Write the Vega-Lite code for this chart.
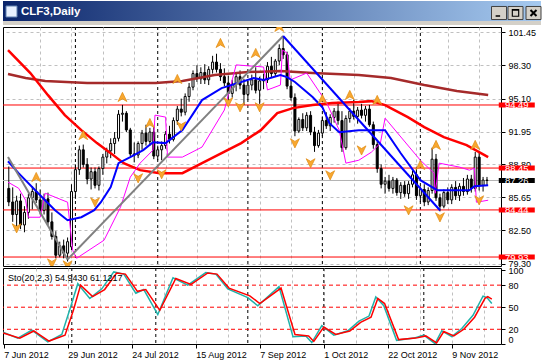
{
  "$schema": "https://vega.github.io/schema/vega-lite/v6.json",
  "background": "white",
  "padding": {"left": 2, "top": 1, "right": 0, "bottom": 0},
  "spacing": 2,
  "bounds": "flush",
  "config": {
    "view": {"stroke": "black", "strokeWidth": 1},
    "axis": {"labelFont": "Liberation Sans", "labelFontSize": 9, "labelColor": "black", "tickColor": "black", "domain": false, "tickCount": 40, "zindex": 0}
  },
  "datasets": {
    "one": [{"k": 1}],
    "bars": [
      {"i":0,"o":86.5,"h":88.6,"l":84.8,"c":85.2},{"i":1,"o":85.2,"h":86.6,"l":83.3,"c":84.0},{"i":2,"o":84.0,"h":85.8,"l":82.9,"c":85.3},{"i":3,"o":85.3,"h":86.0,"l":82.6,"c":83.0},
      {"i":4,"o":83.0,"h":84.8,"l":82.3,"c":84.2},{"i":5,"o":84.2,"h":86.0,"l":83.6,"c":85.6},{"i":6,"o":85.6,"h":86.7,"l":84.5,"c":86.2},{"i":7,"o":86.2,"h":87.0,"l":85.1,"c":85.4},
      {"i":8,"o":85.4,"h":86.4,"l":84.0,"c":84.4},{"i":9,"o":84.4,"h":86.0,"l":84.0,"c":85.5},{"i":10,"o":85.5,"h":86.1,"l":83.0,"c":83.3},{"i":11,"o":83.3,"h":84.2,"l":81.6,"c":81.9},
      {"i":12,"o":81.9,"h":82.4,"l":79.8,"c":80.1},{"i":13,"o":80.1,"h":81.4,"l":79.9,"c":81.0},{"i":14,"o":81.0,"h":81.6,"l":79.8,"c":80.3},{"i":15,"o":80.3,"h":81.8,"l":79.5,"c":81.4},
      {"i":16,"o":80.9,"h":86.9,"l":80.6,"c":86.2},{"i":17,"o":86.2,"h":88.8,"l":85.5,"c":88.3},{"i":18,"o":88.3,"h":90.6,"l":87.8,"c":90.2},{"i":19,"o":90.2,"h":90.7,"l":88.5,"c":88.8},
      {"i":20,"o":88.8,"h":89.4,"l":86.9,"c":87.4},{"i":21,"o":87.4,"h":88.5,"l":86.4,"c":88.1},{"i":22,"o":88.1,"h":88.5,"l":86.5,"c":86.8},{"i":23,"o":86.8,"h":88.6,"l":86.3,"c":88.4},
      {"i":24,"o":88.4,"h":89.8,"l":87.8,"c":89.5},{"i":25,"o":89.5,"h":90.4,"l":88.9,"c":90.1},{"i":26,"o":90.1,"h":91.3,"l":89.4,"c":90.8},{"i":27,"o":90.8,"h":91.9,"l":89.8,"c":91.3},
      {"i":28,"o":91.3,"h":94.0,"l":91.0,"c":93.6},{"i":29,"o":93.6,"h":94.5,"l":92.9,"c":93.7},{"i":30,"o":93.7,"h":93.9,"l":91.9,"c":92.1},{"i":31,"o":92.1,"h":92.3,"l":89.6,"c":89.8},
      {"i":32,"o":89.8,"h":90.9,"l":89.0,"c":89.7},{"i":33,"o":89.7,"h":91.0,"l":89.4,"c":90.8},{"i":34,"o":90.8,"h":92.1,"l":90.2,"c":91.8},{"i":35,"o":91.8,"h":92.6,"l":90.6,"c":91.0},
      {"i":36,"o":91.0,"h":92.3,"l":90.6,"c":91.9},{"i":37,"o":91.9,"h":92.4,"l":89.3,"c":89.6},{"i":38,"o":89.6,"h":90.6,"l":89.2,"c":90.2},{"i":39,"o":90.2,"h":91.0,"l":89.2,"c":90.6},
      {"i":40,"o":90.6,"h":92.0,"l":90.3,"c":91.7},{"i":41,"o":91.7,"h":92.5,"l":90.8,"c":91.2},{"i":42,"o":91.2,"h":93.3,"l":91.0,"c":93.0},{"i":43,"o":93.0,"h":94.4,"l":92.6,"c":94.1},
      {"i":44,"o":94.1,"h":95.1,"l":93.4,"c":93.8},{"i":45,"o":93.8,"h":95.6,"l":93.5,"c":95.3},{"i":46,"o":95.3,"h":96.6,"l":94.8,"c":96.2},{"i":47,"o":96.2,"h":97.8,"l":95.9,"c":97.5},
      {"i":48,"o":97.5,"h":98.3,"l":96.7,"c":97.0},{"i":49,"o":97.0,"h":98.1,"l":96.5,"c":97.6},{"i":50,"o":97.6,"h":98.4,"l":96.5,"c":96.9},{"i":51,"o":96.9,"h":98.2,"l":96.4,"c":97.9},
      {"i":52,"o":97.9,"h":99.2,"l":97.5,"c":98.6},{"i":53,"o":98.6,"h":99.4,"l":97.6,"c":97.9},{"i":54,"o":97.9,"h":98.5,"l":96.8,"c":97.2},{"i":55,"o":97.2,"h":98.0,"l":96.3,"c":96.6},
      {"i":56,"o":96.6,"h":97.3,"l":94.9,"c":95.6},{"i":57,"o":95.6,"h":96.9,"l":95.2,"c":96.5},{"i":58,"o":96.5,"h":97.6,"l":95.8,"c":97.2},{"i":59,"o":97.2,"h":97.8,"l":96.0,"c":96.4},
      {"i":60,"o":96.4,"h":97.0,"l":94.5,"c":95.5},{"i":61,"o":95.5,"h":96.8,"l":95.0,"c":96.4},{"i":62,"o":96.4,"h":97.4,"l":95.9,"c":96.9},{"i":63,"o":96.9,"h":98.1,"l":95.6,"c":95.9},
      {"i":64,"o":95.9,"h":97.2,"l":94.6,"c":96.8},{"i":65,"o":96.8,"h":97.5,"l":96.0,"c":96.9},{"i":66,"o":96.9,"h":98.6,"l":96.6,"c":98.2},{"i":67,"o":98.2,"h":99.1,"l":97.1,"c":97.5},
      {"i":68,"o":97.5,"h":98.9,"l":97.2,"c":98.7},{"i":69,"o":98.7,"h":100.3,"l":98.3,"c":99.9},{"i":70,"o":99.9,"h":101.1,"l":98.9,"c":99.3},{"i":71,"o":99.3,"h":99.6,"l":96.0,"c":96.3},
      {"i":72,"o":96.3,"h":96.9,"l":94.9,"c":95.2},{"i":73,"o":95.2,"h":95.6,"l":91.5,"c":92.0},{"i":74,"o":92.0,"h":93.3,"l":91.8,"c":93.1},{"i":75,"o":93.1,"h":93.7,"l":92.0,"c":92.3},
      {"i":76,"o":92.3,"h":93.8,"l":92.0,"c":93.5},{"i":77,"o":93.5,"h":93.9,"l":91.6,"c":91.9},{"i":78,"o":91.9,"h":92.4,"l":90.0,"c":90.6},{"i":79,"o":90.6,"h":92.1,"l":90.4,"c":91.8},
      {"i":80,"o":91.8,"h":93.4,"l":91.5,"c":93.0},{"i":81,"o":93.0,"h":93.8,"l":92.2,"c":92.5},{"i":82,"o":92.5,"h":93.6,"l":92.0,"c":93.3},{"i":83,"o":93.3,"h":94.2,"l":92.8,"c":93.9},
      {"i":84,"o":93.9,"h":94.8,"l":92.6,"c":93.0},{"i":85,"o":93.0,"h":93.9,"l":90.0,"c":90.4},{"i":86,"o":90.4,"h":93.5,"l":90.2,"c":93.2},{"i":87,"o":93.2,"h":94.2,"l":92.8,"c":93.9},
      {"i":88,"o":93.9,"h":95.0,"l":93.1,"c":93.4},{"i":89,"o":93.4,"h":94.3,"l":92.7,"c":94.0},{"i":90,"o":94.0,"h":94.6,"l":93.2,"c":93.5},{"i":91,"o":93.5,"h":94.4,"l":92.9,"c":94.1},
      {"i":92,"o":94.1,"h":94.5,"l":92.4,"c":92.6},{"i":93,"o":92.6,"h":92.9,"l":90.3,"c":90.7},{"i":94,"o":90.7,"h":91.0,"l":88.0,"c":88.4},{"i":95,"o":88.4,"h":88.8,"l":86.5,"c":86.9},
      {"i":96,"o":86.9,"h":87.6,"l":86.0,"c":87.2},{"i":97,"o":87.2,"h":87.8,"l":86.2,"c":86.5},{"i":98,"o":86.5,"h":87.6,"l":86.0,"c":87.3},{"i":99,"o":87.3,"h":87.5,"l":85.8,"c":86.1},
      {"i":100,"o":86.1,"h":87.1,"l":85.5,"c":86.8},{"i":101,"o":86.8,"h":87.2,"l":85.7,"c":86.0},{"i":102,"o":86.0,"h":87.2,"l":85.5,"c":86.9},{"i":103,"o":86.9,"h":88.2,"l":86.6,"c":87.8},
      {"i":104,"o":87.8,"h":88.5,"l":85.4,"c":85.8},{"i":105,"o":85.8,"h":86.7,"l":85.2,"c":86.4},{"i":106,"o":86.4,"h":86.9,"l":84.8,"c":85.2},{"i":107,"o":85.2,"h":86.6,"l":84.9,"c":86.3},
      {"i":108,"o":86.3,"h":90.4,"l":86.0,"c":89.3},{"i":109,"o":89.3,"h":89.8,"l":85.3,"c":85.6},{"i":110,"o":85.6,"h":86.0,"l":84.3,"c":84.8},{"i":111,"o":84.8,"h":86.4,"l":84.6,"c":86.1},
      {"i":112,"o":86.1,"h":86.6,"l":85.0,"c":85.4},{"i":113,"o":85.4,"h":86.9,"l":85.0,"c":86.6},{"i":114,"o":86.6,"h":87.2,"l":85.4,"c":85.8},{"i":115,"o":85.8,"h":87.0,"l":85.3,"c":86.7},
      {"i":116,"o":86.7,"h":87.5,"l":85.8,"c":86.2},{"i":117,"o":86.2,"h":87.8,"l":85.9,"c":87.4},{"i":118,"o":87.4,"h":87.8,"l":86.1,"c":86.5},{"i":119,"o":86.5,"h":90.0,"l":86.2,"c":89.5},
      {"i":120,"o":89.5,"h":89.9,"l":86.3,"c":86.8},{"i":121,"o":86.8,"h":87.6,"l":86.2,"c":87.3},{"i":122,"o":87.3,"h":87.6,"l":86.8,"c":87.26}
    ],
    "brown": [
      {"i":-0.2,"p":97.45},{"i":4.3,"p":97.07},{"i":9.3,"p":96.78},{"i":20,"p":96.59},{"i":37.5,"p":96.59},{"i":44.3,"p":96.78},{"i":52.5,"p":97.36},{"i":61,"p":97.64},{"i":69.3,"p":97.74},{"i":77.5,"p":97.55},{"i":89.3,"p":97.36},{"i":97.5,"p":97.07},{"i":106,"p":96.4},{"i":114.3,"p":95.83},{"i":122.3,"p":95.44}
    ],
    "redma": [
      {"i":-0.2,"p":99.75},{"i":5.5,"p":97.55},{"i":10,"p":95.43},{"i":14.3,"p":93.52},{"i":18.5,"p":92.08},{"i":22.5,"p":90.84},{"i":26,"p":89.88},{"i":29.3,"p":88.92},{"i":33.5,"p":88.25},{"i":38.5,"p":87.96},{"i":44.3,"p":87.96},{"i":49.3,"p":88.92},{"i":54.3,"p":89.88},{"i":59.3,"p":90.84},{"i":64.3,"p":92.08},{"i":68.5,"p":93.71},{"i":72.5,"p":94.19},{"i":77.5,"p":94.48},{"i":82.5,"p":94.67},{"i":89.3,"p":94.77},{"i":92.5,"p":94.86},{"i":96,"p":94.48},{"i":101.8,"p":93.33},{"i":106,"p":92.37},{"i":111,"p":91.41},{"i":116.8,"p":90.64},{"i":122.3,"p":89.5}
    ],
    "bluema": [
      {"i":-0.2,"p":89.1},{"i":2.5,"p":87.96},{"i":8.5,"p":85.66},{"i":11.8,"p":84.41},{"i":15,"p":83.45},{"i":18.5,"p":83.74},{"i":21.8,"p":84.41},{"i":23.5,"p":85.18},{"i":26,"p":86.62},{"i":28,"p":88.92},{"i":31,"p":89.5},{"i":34.3,"p":90.17},{"i":36.8,"p":90.93},{"i":40,"p":90.84},{"i":44.3,"p":92.08},{"i":49.3,"p":94.96},{"i":54.3,"p":96.11},{"i":59.3,"p":96.69},{"i":62.5,"p":97.07},{"i":65,"p":96.88},{"i":69.3,"p":97.36},{"i":71,"p":97.16},{"i":73,"p":96.69},{"i":77.5,"p":95.25},{"i":80,"p":94.28},{"i":81.8,"p":92.75},{"i":84.3,"p":91.89},{"i":89.3,"p":92.08},{"i":96,"p":92.08},{"i":100,"p":89.87},{"i":105,"p":87.29},{"i":109.3,"p":86.33},{"i":117.5,"p":86.33},{"i":118.8,"p":86.71},{"i":122.3,"p":86.81}
    ],
    "magenta": [
      {"i":-0.2,"p":87.1},{"i":2.5,"p":86.52},{"i":4.3,"p":85.37},{"i":5,"p":83.74},{"i":8,"p":83.74},{"i":9.3,"p":86.04},{"i":15,"p":85.18},{"i":16.3,"p":80.58},{"i":17.3,"p":79.81},{"i":24.3,"p":81.54},{"i":28.5,"p":84.7},{"i":31,"p":87.58},{"i":33.5,"p":88.92},{"i":36.8,"p":90.17},{"i":37.3,"p":93.52},{"i":40,"p":93.33},{"i":40.5,"p":89.5},{"i":44.3,"p":89.5},{"i":49.3,"p":90.46},{"i":55,"p":94.01},{"i":58,"p":98.33},{"i":65,"p":98.13},{"i":66,"p":95.93},{"i":69.3,"p":96.4},{"i":69.8,"p":99.75},{"i":71,"p":99.46},{"i":71.8,"p":96.88},{"i":76,"p":97.55},{"i":81,"p":94.77},{"i":84.3,"p":92.08},{"i":86,"p":88.92},{"i":89.3,"p":89.2},{"i":92.5,"p":89.97},{"i":94.8,"p":90.83},{"i":96,"p":93.23},{"i":105,"p":89.2},{"i":108.5,"p":87.96},{"i":108.8,"p":86.04},{"i":109.8,"p":88.92},{"i":115,"p":88.54},{"i":117.5,"p":88.25},{"i":118.8,"p":88.44},{"i":119.3,"p":85.18},{"i":122.3,"p":85.37}
    ],
    "gtrend": [
      {"g":"a","i":-0.2,"p":89.5},{"g":"a","i":15,"p":79.7},{"g":"b","i":15,"p":79.7},{"g":"b","i":70,"p":101.1}
    ],
    "btrend": [
      {"i":70,"p":101.1},{"i":110,"p":84.41}
    ],
    "levels": [{"p":94.49},{"p":88.45},{"p":84.44},{"p":79.93}],
    "bid": [{"p":87.26}],
    "seps": [{"i":17},{"i":38},{"i":61},{"i":80},{"i":105}],
    "frac": [
      {"i":2,"p":82.69,"t":"dn"},{"i":7,"p":87.58,"t":"up"},{"i":11,"p":79.33,"t":"dn"},{"i":15,"p":79.14,"t":"dn"},{"i":19,"p":91.6,"t":"up"},{"i":22,"p":85.18,"t":"dn"},
      {"i":29,"p":95.25,"t":"up"},{"i":33,"p":87.48,"t":"dn"},{"i":36,"p":92.75,"t":"up"},{"i":39,"p":87.87,"t":"dn"},{"i":43,"p":96.97,"t":"up"},{"i":44,"p":92.46,"t":"dn"},
      {"i":54,"p":100.42,"t":"up"},{"i":56,"p":94.76,"t":"dn"},{"i":59,"p":94.28,"t":"dn"},{"i":63,"p":99.46,"t":"up"},{"i":64,"p":94.28,"t":"dn"},{"i":69,"p":101.96,"t":"up"},
      {"i":73,"p":90.83,"t":"dn"},{"i":77,"p":88.92,"t":"dn"},{"i":80,"p":95.05,"t":"up"},{"i":82,"p":87.77,"t":"dn"},{"i":87,"p":95.44,"t":"up"},{"i":90,"p":90.15,"t":"dn"},
      {"i":94,"p":94.96,"t":"up"},{"i":102,"p":84.41,"t":"dn"},{"i":105,"p":88.73,"t":"up"},{"i":109,"p":90.65,"t":"up"},{"i":110,"p":83.74,"t":"dn"},{"i":119,"p":90.65,"t":"up"},{"i":120,"p":85.37,"t":"dn"}
    ],
    "boxes": [
      {"p":94.49,"lab":"94.49","k":"lvl"},{"p":88.45,"lab":"88.45","k":"lvl"},{"p":84.44,"lab":"84.44","k":"lvl"},{"p":79.93,"lab":"79.93","k":"lvl"},{"p":87.26,"lab":"87.26","k":"bid"}
    ],
    "stmain": [
      {"i":-0.2,"v":16},{"i":3.5,"v":8},{"i":7,"v":19},{"i":11,"v":3},{"i":14.5,"v":13},{"i":16.8,"v":52},{"i":18.5,"v":82},{"i":21.5,"v":62},{"i":24.5,"v":75},{"i":27.5,"v":98},{"i":30,"v":95},{"i":33,"v":69},{"i":35,"v":74},{"i":38.5,"v":40},{"i":42.3,"v":90},{"i":46,"v":80},{"i":50.5,"v":97},{"i":53,"v":95},{"i":56,"v":75},{"i":61,"v":63},{"i":63.5,"v":52},{"i":68.8,"v":78},{"i":72.3,"v":10},{"i":75.5,"v":11},{"i":77,"v":2},{"i":79.5,"v":25},{"i":82.5,"v":12},{"i":86,"v":18},{"i":88.8,"v":31},{"i":91.3,"v":38},{"i":93,"v":64},{"i":95,"v":52},{"i":98.2,"v":5},{"i":102.5,"v":8},{"i":105,"v":12},{"i":107.8,"v":0.5},{"i":109.5,"v":18},{"i":112,"v":10},{"i":114.5,"v":21},{"i":117.3,"v":39},{"i":119.8,"v":65},{"i":120.8,"v":63},{"i":122,"v":54.94}
    ],
    "stsig": [
      {"i":-0.2,"v":15},{"i":4,"v":8},{"i":7.5,"v":17.7},{"i":11.3,"v":4},{"i":15.3,"v":12},{"i":17.4,"v":46},{"i":19.2,"v":80},{"i":22.2,"v":64.5},{"i":25.2,"v":74},{"i":28.2,"v":96.5},{"i":30.4,"v":95},{"i":33.4,"v":71.6},{"i":35.5,"v":74},{"i":39,"v":45.8},{"i":43,"v":89},{"i":46.8,"v":81},{"i":51,"v":96.5},{"i":53.3,"v":95},{"i":56.3,"v":76},{"i":61.5,"v":65.5},{"i":64,"v":55},{"i":69.3,"v":76},{"i":72.8,"v":13},{"i":76.2,"v":11},{"i":77.5,"v":3.5},{"i":80,"v":23},{"i":83,"v":13},{"i":86.5,"v":17.7},{"i":89.2,"v":29.3},{"i":91.8,"v":36.4},{"i":93.5,"v":62},{"i":95.2,"v":55},{"i":98.7,"v":6},{"i":103,"v":8},{"i":105.5,"v":11},{"i":108.2,"v":1.5},{"i":110,"v":17},{"i":112.5,"v":11},{"i":115,"v":20},{"i":117.7,"v":36.4},{"i":120.3,"v":62},{"i":121,"v":64.5},{"i":122,"v":61.12}
    ],
    "stlev": [{"v":20},{"v":50},{"v":80}]
  },
  "vconcat": [
    {
      "width": 538,
      "height": 24,
      "view": {"stroke": null},
      "data": {"name": "one"},
      "layer": [
        {
          "mark": {"type": "rect", "fill": "#D4D0C8"},
          "encoding": {
            "x": {"datum": 0, "type": "quantitative", "scale": {"domain": [0, 538], "nice": false, "zero": false}, "axis": null},
            "x2": {"datum": 538},
            "y": {"datum": 0, "type": "quantitative", "scale": {"domain": [0, 24], "reverse": true, "nice": false, "zero": false}, "axis": null},
            "y2": {"datum": 24}
          }
        },
        {
          "mark": {"type": "rect", "fill": {"gradient": "linear", "x1": 0, "x2": 1, "y1": 0, "y2": 0, "stops": [{"offset": 0, "color": "#0A246A"}, {"offset": 1, "color": "#A6CAF0"}]}},
          "encoding": {
            "x": {"datum": 0, "type": "quantitative"},
            "x2": {"datum": 538},
            "y": {"datum": 0, "type": "quantitative"},
            "y2": {"datum": 20}
          }
        },
        {
          "mark": {"type": "point", "shape": "square", "filled": true, "fill": "#E8F0FF", "stroke": "#6080B0", "strokeWidth": 1, "size": 121, "opacity": 1},
          "encoding": {"x": {"datum": 8.5, "type": "quantitative"}, "y": {"datum": 10.5, "type": "quantitative"}}
        },
        {
          "mark": {"type": "text", "text": "CLF3,Daily", "color": "white", "font": "Liberation Sans", "fontSize": 11.5, "fontWeight": "bold", "align": "left", "baseline": "middle"},
          "encoding": {"x": {"datum": 18, "type": "quantitative"}, "y": {"datum": 11, "type": "quantitative"}}
        },
        {
          "mark": {"type": "point", "shape": "M-1,-0.87L1,-0.87L1,0.87L-1,0.87Z", "filled": true, "fill": "#D4D0C8", "stroke": "#404040", "strokeWidth": 1, "size": 225, "opacity": 1},
          "encoding": {"x": {"datum": 496, "type": "quantitative"}, "y": {"datum": 12, "type": "quantitative"}}
        },
        {
          "mark": {"type": "point", "shape": "M-1,-0.87L1,-0.87L1,0.87L-1,0.87Z", "filled": true, "fill": "#D4D0C8", "stroke": "#404040", "strokeWidth": 1, "size": 225, "opacity": 1},
          "encoding": {"x": {"datum": 512.5, "type": "quantitative"}, "y": {"datum": 12, "type": "quantitative"}}
        },
        {
          "mark": {"type": "point", "shape": "M-1,-0.87L1,-0.87L1,0.87L-1,0.87Z", "filled": true, "fill": "#D4D0C8", "stroke": "#404040", "strokeWidth": 1, "size": 225, "opacity": 1},
          "encoding": {"x": {"datum": 530.5, "type": "quantitative"}, "y": {"datum": 12, "type": "quantitative"}}
        },
        {
          "mark": {"type": "point", "shape": "M-0.45,0.3L0.15,0.3L0.15,0.5L-0.45,0.5Z", "filled": true, "fill": "black", "size": 225, "opacity": 1},
          "encoding": {"x": {"datum": 496, "type": "quantitative"}, "y": {"datum": 12, "type": "quantitative"}}
        },
        {
          "mark": {"type": "point", "shape": "M-0.5,-0.55L0.5,-0.55L0.5,0.5L-0.5,0.5ZM-0.35,-0.3L-0.35,0.35L0.35,0.35L0.35,-0.3Z", "filled": true, "fill": "black", "size": 225, "opacity": 1},
          "encoding": {"x": {"datum": 512.5, "type": "quantitative"}, "y": {"datum": 12, "type": "quantitative"}}
        },
        {
          "mark": {"type": "point", "shape": "M-0.4,-0.4L0.4,0.4M0.4,-0.4L-0.4,0.4", "filled": false, "stroke": "black", "strokeWidth": 2, "size": 225, "opacity": 1},
          "encoding": {"x": {"datum": 530.5, "type": "quantitative"}, "y": {"datum": 12, "type": "quantitative"}}
        }
      ]
    },
    {
      "width": 498,
      "height": 239,
      "layer": [
        {
          "data": {"name": "seps"},
          "mark": {"type": "rule", "color": "black", "strokeDash": [3, 3], "strokeWidth": 1},
          "encoding": {
            "x": {"field": "i", "type": "quantitative", "scale": {"domain": [-0.2, 124.3], "nice": false, "zero": false},
              "axis": {"orient": "bottom", "values": [8,16,24,32,40,48,56,64,72,80,88,96,104,112,120], "tickCount": 40, "zindex": 0, "grid": true, "gridColor": "#C0C0C0", "gridDash": [3, 3], "labels": false, "ticks": false, "domain": false, "title": null}}
          }
        },
        {
          "data": {"name": "levels"},
          "mark": {"type": "rule", "color": "#FF0000", "strokeWidth": 1},
          "encoding": {
            "y": {"field": "p", "type": "quantitative", "scale": {"domain": [79.07, 101.96], "nice": false, "zero": false},
              "axis": {"orient": "right", "values": [101.45, 98.30, 95.10, 91.95, 88.80, 85.65, 82.50, 79.30], "tickCount": 40, "zindex": 0, "format": ".2f", "grid": true, "gridColor": "#C0C0C0", "gridDash": [3, 3], "tickSize": 4, "tickColor": "black", "labelPadding": 3, "labelFlush": false, "labelOverlap": false, "labelBound": false, "domain": false, "title": null}}
          }
        },
        {
          "data": {"name": "bid"},
          "mark": {"type": "rule", "color": "#B4B4B4", "strokeWidth": 1},
          "encoding": {"y": {"field": "p", "type": "quantitative", "scale": {"domain": [79.07, 101.96], "nice": false, "zero": false}}}
        },
        {
          "data": {"name": "bars"},
          "mark": {"type": "rule", "color": "black", "strokeWidth": 1, "clip": true},
          "encoding": {
            "x": {"field": "i", "type": "quantitative", "scale": {"domain": [-0.2, 124.3], "nice": false, "zero": false}},
            "y": {"field": "l", "type": "quantitative", "scale": {"domain": [79.07, 101.96], "nice": false, "zero": false}},
            "y2": {"field": "h"}
          }
        },
        {
          "data": {"name": "bars"},
          "mark": {"type": "bar", "orient": "vertical", "size": 2, "stroke": "black", "strokeWidth": 1, "clip": true},
          "encoding": {
            "x": {"field": "i", "type": "quantitative", "scale": {"domain": [-0.2, 124.3], "nice": false, "zero": false}},
            "y": {"field": "o", "type": "quantitative", "scale": {"domain": [79.07, 101.96], "nice": false, "zero": false}},
            "y2": {"field": "c"},
            "fill": {"condition": {"test": "datum.c >= datum.o", "value": "white"}, "value": "black"}
          }
        },
        {
          "data": {"name": "brown"},
          "mark": {"type": "line", "color": "#A52A2A", "strokeWidth": 2.5, "clip": true},
          "encoding": {"x": {"field": "i", "type": "quantitative", "scale": {"domain": [-0.2, 124.3], "nice": false, "zero": false}}, "y": {"field": "p", "type": "quantitative", "scale": {"domain": [79.07, 101.96], "nice": false, "zero": false}}}
        },
        {
          "data": {"name": "redma"},
          "mark": {"type": "line", "color": "#FF0000", "strokeWidth": 2.5, "clip": true},
          "encoding": {"x": {"field": "i", "type": "quantitative", "scale": {"domain": [-0.2, 124.3], "nice": false, "zero": false}}, "y": {"field": "p", "type": "quantitative", "scale": {"domain": [79.07, 101.96], "nice": false, "zero": false}}}
        },
        {
          "data": {"name": "magenta"},
          "mark": {"type": "line", "color": "#FF00FF", "strokeWidth": 1, "clip": true},
          "encoding": {"x": {"field": "i", "type": "quantitative", "scale": {"domain": [-0.2, 124.3], "nice": false, "zero": false}}, "y": {"field": "p", "type": "quantitative", "scale": {"domain": [79.07, 101.96], "nice": false, "zero": false}}}
        },
        {
          "data": {"name": "bluema"},
          "mark": {"type": "line", "color": "#0000FF", "strokeWidth": 2, "clip": true},
          "encoding": {"x": {"field": "i", "type": "quantitative", "scale": {"domain": [-0.2, 124.3], "nice": false, "zero": false}}, "y": {"field": "p", "type": "quantitative", "scale": {"domain": [79.07, 101.96], "nice": false, "zero": false}}}
        },
        {
          "data": {"name": "gtrend"},
          "mark": {"type": "line", "color": "#808080", "strokeWidth": 2, "clip": true},
          "encoding": {"x": {"field": "i", "type": "quantitative", "scale": {"domain": [-0.2, 124.3], "nice": false, "zero": false}}, "y": {"field": "p", "type": "quantitative", "scale": {"domain": [79.07, 101.96], "nice": false, "zero": false}}, "detail": {"field": "g"}}
        },
        {
          "data": {"name": "btrend"},
          "mark": {"type": "line", "color": "#0000FF", "strokeWidth": 2, "clip": true},
          "encoding": {"x": {"field": "i", "type": "quantitative", "scale": {"domain": [-0.2, 124.3], "nice": false, "zero": false}}, "y": {"field": "p", "type": "quantitative", "scale": {"domain": [79.07, 101.96], "nice": false, "zero": false}}}
        },
        {
          "data": {"name": "frac"},
          "transform": [{"filter": "datum.t === 'up'"}],
          "mark": {"type": "point", "shape": "M0,-0.9L0.85,0.85L0,0.35L-0.85,0.85Z", "filled": true, "fill": "#F8A830", "stroke": "#E08A10", "strokeWidth": 0.7, "size": 110, "opacity": 1, "clip": true},
          "encoding": {"x": {"field": "i", "type": "quantitative", "scale": {"domain": [-0.2, 124.3], "nice": false, "zero": false}}, "y": {"field": "p", "type": "quantitative", "scale": {"domain": [79.07, 101.96], "nice": false, "zero": false}}}
        },
        {
          "data": {"name": "frac"},
          "transform": [{"filter": "datum.t === 'dn'"}],
          "mark": {"type": "point", "shape": "M0,0.9L0.85,-0.85L0,-0.35L-0.85,-0.85Z", "filled": true, "fill": "#F8A830", "stroke": "#E08A10", "strokeWidth": 0.7, "size": 110, "opacity": 1, "clip": true},
          "encoding": {"x": {"field": "i", "type": "quantitative", "scale": {"domain": [-0.2, 124.3], "nice": false, "zero": false}}, "y": {"field": "p", "type": "quantitative", "scale": {"domain": [79.07, 101.96], "nice": false, "zero": false}}}
        },
        {
          "data": {"name": "boxes"},
          "mark": {"type": "point", "shape": "M-1,-0.139L1,-0.139L1,0.139L-1,0.139Z", "filled": true, "size": 1296, "opacity": 1},
          "encoding": {
            "x": {"datum": 129.6, "type": "quantitative", "scale": {"domain": [-0.2, 124.3], "nice": false, "zero": false}},
            "y": {"field": "p", "type": "quantitative", "scale": {"domain": [79.07, 101.96], "nice": false, "zero": false}},
            "fill": {"condition": {"test": "datum.k === 'bid'", "value": "black"}, "value": "#FF0000"}
          }
        },
        {
          "data": {"name": "boxes"},
          "mark": {"type": "text", "color": "white", "font": "Liberation Sans", "fontSize": 9.5, "align": "center", "baseline": "middle", "dy": 0.5},
          "encoding": {
            "x": {"datum": 129.6, "type": "quantitative", "scale": {"domain": [-0.2, 124.3], "nice": false, "zero": false}},
            "y": {"field": "p", "type": "quantitative", "scale": {"domain": [79.07, 101.96], "nice": false, "zero": false}},
            "text": {"field": "lab"}
          }
        }
      ]
    },
    {
      "width": 498,
      "height": 76,
      "layer": [
        {
          "data": {"name": "seps"},
          "mark": {"type": "rule", "color": "black", "strokeDash": [3, 3], "strokeWidth": 1},
          "encoding": {
            "x": {"field": "i", "type": "quantitative", "scale": {"domain": [-0.2, 124.3], "nice": false, "zero": false},
              "axis": {"orient": "bottom", "values": [0,8,16,24,32,40,48,56,64,72,80,88,96,104,112,120], "tickCount": 40, "zindex": 0,
                "labelExpr": "datum.value % 16 === 0 ? ['7 Jun 2012','29 Jun 2012','24 Jul 2012','15 Aug 2012','7 Sep 2012','1 Oct 2012','22 Oct 2012','9 Nov 2012'][datum.value / 16] : ''",
                "labelAlign": "left", "labelPadding": 2, "labelFlush": false, "labelOverlap": false, "labelBound": false,
                "tickSize": 4, "tickColor": "black", "tickOpacity": {"condition": {"test": "datum.value % 16 === 0", "value": 1}, "value": 0},
                "grid": true, "gridColor": "#C0C0C0", "gridDash": [3, 3], "gridOpacity": {"condition": {"test": "datum.value === 0", "value": 0}, "value": 1},
                "domain": false, "title": null}}
          }
        },
        {
          "data": {"name": "stlev"},
          "mark": {"type": "rule", "color": "#FF0000", "strokeDash": [4, 3], "strokeWidth": 1},
          "encoding": {
            "y": {"field": "v", "type": "quantitative", "scale": {"domain": [0, 103.3], "nice": false, "zero": false},
              "axis": {"orient": "right", "values": [0, 20, 50, 80, 100], "tickCount": 40, "zindex": 0, "grid": false, "tickSize": 4, "tickColor": "black", "labelPadding": 3, "labelFlush": true, "labelOverlap": false, "domain": false, "title": null}}
          }
        },
        {
          "data": {"name": "stmain"},
          "mark": {"type": "line", "color": "#20B2AA", "strokeWidth": 1.5, "clip": true},
          "encoding": {"x": {"field": "i", "type": "quantitative", "scale": {"domain": [-0.2, 124.3], "nice": false, "zero": false}}, "y": {"field": "v", "type": "quantitative", "scale": {"domain": [0, 103.3], "nice": false, "zero": false}}}
        },
        {
          "data": {"name": "stsig"},
          "mark": {"type": "line", "color": "#FF0000", "strokeWidth": 1.5, "clip": true},
          "encoding": {"x": {"field": "i", "type": "quantitative", "scale": {"domain": [-0.2, 124.3], "nice": false, "zero": false}}, "y": {"field": "v", "type": "quantitative", "scale": {"domain": [0, 103.3], "nice": false, "zero": false}}}
        },
        {
          "data": {"name": "one"},
          "mark": {"type": "text", "text": "Sto(20,2,3) 54.9430 61.1217", "color": "black", "font": "Liberation Sans", "fontSize": 9, "align": "left", "baseline": "middle"},
          "encoding": {"x": {"datum": 1.05, "type": "quantitative", "scale": {"domain": [-0.2, 124.3], "nice": false, "zero": false}}, "y": {"datum": 89.7, "type": "quantitative", "scale": {"domain": [0, 103.3], "nice": false, "zero": false}}}
        }
      ]
    }
  ]
}
